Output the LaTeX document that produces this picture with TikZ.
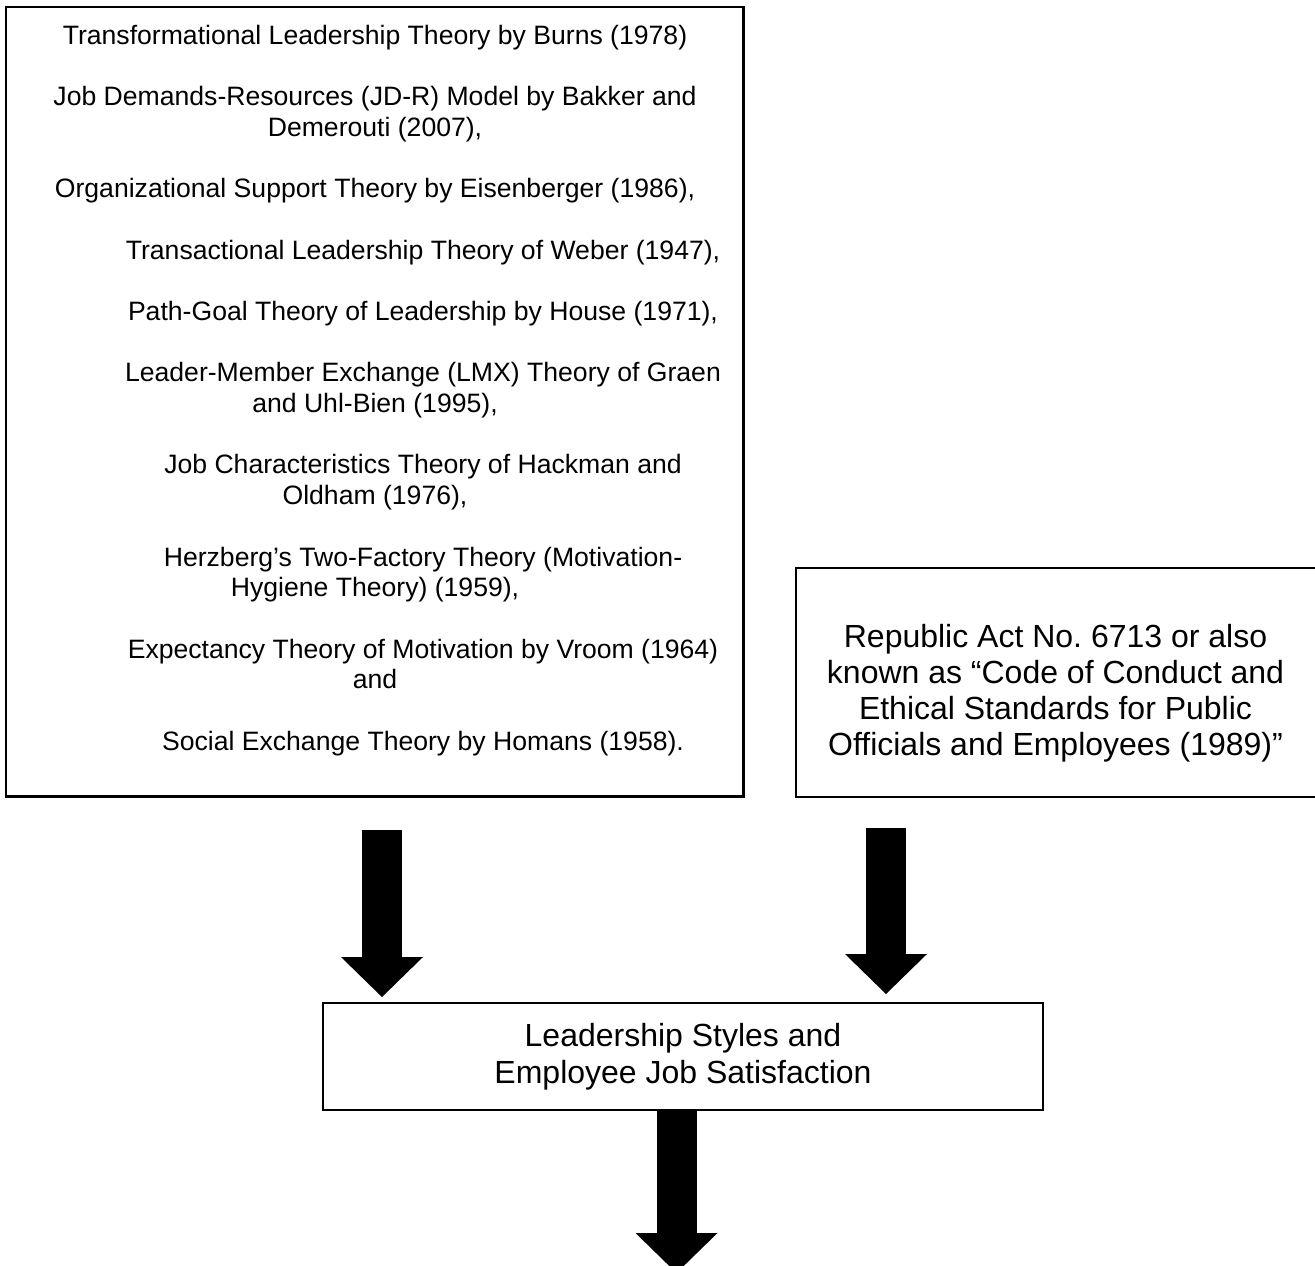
\documentclass[tikz,border=0pt]{standalone}
\usepackage{fontspec}
\setmainfont{Liberation Sans}
\usetikzlibrary{arrows.meta,positioning}

\tikzset{
  frame/.style={draw, line width=0.055cm, inner sep=0, outer sep=0},
  listtext/.style={inner sep=0, align=center, font=\fontsize{15.14pt}{17.47pt}\selectfont},
  lawtext/.style={inner sep=0, align=center, font=\fontsize{18.21pt}{20.49pt}\selectfont},
  bigarrow/.style={line width=0.8cm, -{Triangle[length=0.8cm, width=1.64cm, line width=0pt]}}
}
\newcommand{\itemshift}{\hspace*{1.92cm}}

\begin{document}
\begin{tikzpicture}[x=0.02cm, y=-0.02cm]
\useasboundingbox (0,0) rectangle (1315,1266);
\clip (0,0) rectangle (1315,1266);

% theories
\node[frame, anchor=north west, minimum width=14.76cm, minimum height=15.8cm] (theorybox) at (6,7) {};
\node[listtext, anchor=north] (theories) at (375,24.6) {%
Transformational Leadership Theory by Burns (1978)\\[\baselineskip]
Job Demands-Resources (JD-R) Model by Bakker and\\
Demerouti (2007),\\[\baselineskip]
Organizational Support Theory by Eisenberger (1986),\\[\baselineskip]
\itemshift Transactional Leadership Theory of Weber (1947),\\[\baselineskip]
\itemshift Path-Goal Theory of Leadership by House (1971),\\[\baselineskip]
\itemshift Leader-Member Exchange (LMX) Theory of Graen\\
and Uhl-Bien (1995),\\[\baselineskip]
\itemshift Job Characteristics Theory of Hackman and\\
Oldham (1976),\\[\baselineskip]
\itemshift Herzberg’s Two-Factory Theory (Motivation-\\
Hygiene Theory) (1959),\\[\baselineskip]
\itemshift Expectancy Theory of Motivation by Vroom (1964)\\
and\\[\baselineskip]
\itemshift Social Exchange Theory by Homans (1958).};

% law
\node[frame, anchor=north west, minimum width=10.42cm, minimum height=4.58cm] (lawbox) at (796,568) {};
\node[lawtext] (law) at (1055.5,692.9) {Republic Act No.\ 6713 or also\\
known as “Code of Conduct and\\
Ethical Standards for Public\\
Officials and Employees (1989)”};

% focus of the study
\node[frame, minimum width=14.4cm, minimum height=2.14cm, align=center,
  font=\fontsize{18.21pt}{21.05pt}\selectfont] (focus) at (683,1056.5)
  {Leadership Styles and\\Employee Job Satisfaction};

% arrows
\coordinate (theoryout) at (382,830);
\coordinate (lawout) at (886,828);
\coordinate (resultend) at (676.5,1273);
\draw[bigarrow, shorten >=0.12cm] (theoryout) -- (theoryout |- focus.north);
\draw[bigarrow, shorten >=0.18cm] (lawout) -- (lawout |- focus.north);
\draw[bigarrow] (focus.south -| resultend) -- (resultend);
\end{tikzpicture}
\end{document}
